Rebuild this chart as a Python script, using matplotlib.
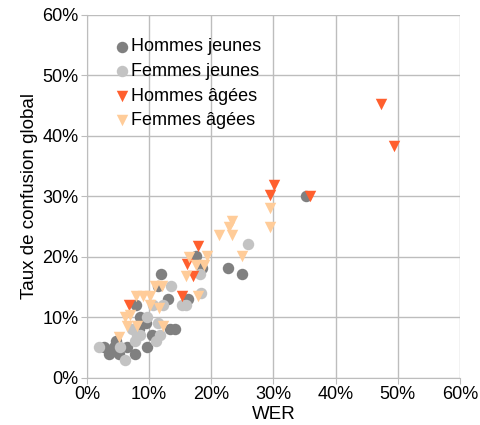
import matplotlib.pyplot as plt
from matplotlib.ticker import PercentFormatter

plt.rcParams['font.family'] = ['Liberation Sans', 'DejaVu Sans']

# WER (%) and taux de confusion global (%) per speaker group
hj_wer = [35.2, 17.6, 11.9, 18.5, 22.7, 25.0, 11.4, 13.1, 16.2, 7.9, 8.6, 9.5, 8.4, 10.4,
          13.4, 14.1, 4.7, 2.7, 4.3, 6.4, 9.6, 3.5, 5.1, 7.7, 4.1]
hj_conf = [30.1, 20.1, 17.1, 18.1, 18.1, 17.1, 15.1, 13.1, 13.1, 12.1, 10.1, 9.1, 8.0, 7.1,
           8.0, 8.0, 6.1, 5.1, 5.1, 5.1, 5.1, 4.0, 4.0, 4.0, 4.5]

fj_wer = [26.0, 18.2, 18.3, 13.6, 10.7, 12.2, 15.3, 15.9, 9.6, 11.4, 7.2, 11.8, 11.1, 7.7,
          8.0, 2.0, 6.1, 5.4, 8.6]
fj_conf = [22.1, 17.1, 14.1, 15.1, 12.1, 12.1, 12.1, 12.1, 10.1, 9.1, 8.0, 7.1, 6.1, 6.1,
           7.1, 5.1, 3.0, 5.1, 7.1]

ha_wer = [47.3, 49.4, 30.1, 29.5, 35.9, 17.8, 16.1, 17.0, 15.3, 6.7]
ha_conf = [45.2, 38.4, 31.8, 30.2, 30.1, 21.8, 18.8, 16.8, 13.6, 12.0]

fa_wer = [29.4, 29.4, 23.4, 22.8, 23.3, 21.3, 24.9, 19.4, 16.4, 17.5, 18.9, 16.0, 17.8,
          10.9, 12.1, 7.9, 9.0, 10.2, 11.6, 10.2, 6.2, 6.9, 6.4, 8.0, 12.2, 5.1]
fa_conf = [25.0, 28.0, 26.0, 25.0, 23.6, 23.6, 20.1, 20.1, 19.9, 18.6, 18.6, 16.8, 13.6,
           15.1, 15.1, 13.6, 13.6, 13.6, 11.6, 12.0, 10.1, 10.4, 8.5, 8.5, 8.5, 6.8]

fig = plt.figure(figsize=(4.8, 4.25), dpi=100)
ax = fig.add_axes([0.181, 0.111, 0.777, 0.854])

ax.scatter(hj_wer, hj_conf, s=68, marker='o', color='#808080', label='Hommes jeunes', zorder=3, linewidths=0)
ax.scatter(fj_wer, fj_conf, s=68, marker='o', color='#c3c3c3', label='Femmes jeunes', zorder=3, linewidths=0)
ax.scatter(ha_wer, ha_conf, s=68, marker='v', color='#ff5f2e', label='Hommes âgées', zorder=3, linewidths=0)
ax.scatter(fa_wer, fa_conf, s=68, marker='v', color='#ffcc99', label='Femmes âgées', zorder=3, linewidths=0)

ax.set_xlim(0, 60)
ax.set_ylim(0, 60)
ax.set_xticks(range(0, 61, 10))
ax.set_yticks(range(0, 61, 10))
ax.xaxis.set_major_formatter(PercentFormatter(decimals=0))
ax.yaxis.set_major_formatter(PercentFormatter(decimals=0))
ax.grid(True, color='#bdbdbd', linewidth=1)
ax.set_axisbelow(True)
for side in ['top', 'right']:
    ax.spines[side].set_visible(False)
for side in ['left', 'bottom']:
    ax.spines[side].set_color('#bdbdbd')
ax.tick_params(colors='#bdbdbd', labelcolor='black', labelsize=13, length=4, pad=2)

ax.set_xlabel('WER', fontsize=13.5, labelpad=2)
ax.set_ylabel('Taux de confusion global', fontsize=13.5, labelpad=3)

ax.legend(loc='upper left', bbox_to_anchor=(0.05, 0.955), frameon=False, fontsize=13,
          handletextpad=0.0, labelspacing=0.42, borderaxespad=0, handlelength=1.0)

fig.savefig('out.png', dpi=100)
